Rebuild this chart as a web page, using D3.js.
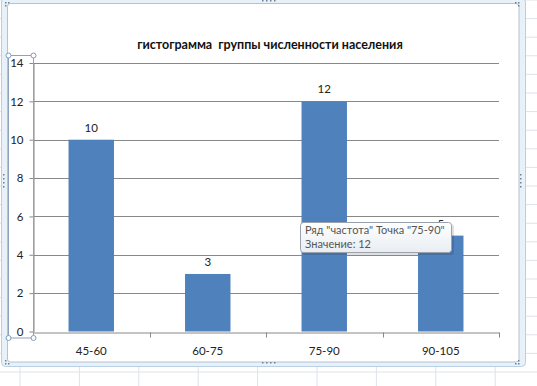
<!DOCTYPE html>
<html>
<head>
<meta charset="utf-8">
<script src="https://cdn.jsdelivr.net/npm/d3@7"></script>
<style>
  html, body { margin: 0; padding: 0; background: #fff; }
  svg { display: block; }
</style>
</head>
<body>
<div id="chart"></div>
<script>
// ---- data ----
const categories = ["45-60", "60-75", "75-90", "90-105"];
const frequency = [10, 3, 12, 5];
const yTicks = [0, 2, 4, 6, 8, 10, 12, 14];
const title = "гистограмма  группы численности населения";
const seriesName = "частота";
const hoverIndex = 2;

// ---- layout ----
const W = 537, H = 386;
const plot = { left: 33, right: 499, top: 63, bottom: 331.5 };

const svg = d3.select("#chart").append("svg")
  .attr("width", W).attr("height", H);

// spreadsheet grid in the background
const bg = svg.append("g");
const colXs = d3.range(20, W, 59.4);
const rowYs = d3.range(372, -10, -18.6);
bg.selectAll("line.col").data(colXs).join("line")
  .attr("x1", d => d).attr("x2", d => d).attr("y1", 0).attr("y2", H)
  .attr("stroke", "#dde3ea").attr("stroke-width", 1);
bg.selectAll("line.row").data(rowYs).join("line")
  .attr("x1", 0).attr("x2", W).attr("y1", d => d).attr("y2", d => d)
  .attr("stroke", "#dde3ea").attr("stroke-width", 1);

// chart selection band + frame
svg.append("rect").attr("x", 1.5).attr("y", -2).attr("width", 524).attr("height", 368.5)
  .attr("rx", 4).attr("fill", "#e9f1f8").attr("stroke", "#b9cfe3");
svg.append("rect").attr("x", 7.5).attr("y", 3.5).attr("width", 511.5).attr("height", 358.5)
  .attr("rx", 3).attr("fill", "#fff").attr("stroke", "#b4c2d1");

// handles (dotted grips)
const grip = svg.append("g").attr("fill", "#6d7f94");
[[262, 0], [266, 0], [270, 0], [274, 0], [262, 362], [266, 362], [270, 362], [274, 362]].forEach(p =>
  grip.append("rect").attr("x", p[0]).attr("y", p[1]).attr("width", 1.5).attr("height", 1.5));
[[3, 174], [3, 178], [3, 182], [3, 186], [520, 174], [520, 178], [520, 182], [520, 186]].forEach(p =>
  grip.append("rect").attr("x", p[0]).attr("y", p[1]).attr("width", 1.5).attr("height", 1.5));
[[5, 2], [8, 2], [5, 5], [515, 2], [518, 2], [518, 5], [5, 360], [8, 363], [5, 363], [515, 363], [518, 363], [518, 360]].forEach(p =>
  grip.append("rect").attr("x", p[0]).attr("y", p[1]).attr("width", 1.5).attr("height", 1.5));

// ---- scales ----
const x = d3.scaleBand().domain(categories).range([plot.left, plot.right])
  .paddingInner(0.61).paddingOuter(0.305);
const y = d3.scaleLinear().domain([0, 14]).range([plot.bottom, plot.top]);

const font = "Lato, 'Noto Sans', sans-serif";

// gridlines
svg.append("g").selectAll("line").data(yTicks.filter(d => d > 0)).join("line")
  .attr("x1", plot.left).attr("x2", plot.right)
  .attr("y1", d => Math.round(y(d)) + 0.5).attr("y2", d => Math.round(y(d)) + 0.5)
  .attr("stroke", "#888").attr("stroke-width", 1);

// y axis
const yAxis = svg.append("g")
  .attr("transform", `translate(${plot.left + 0.5},0)`)
  .call(d3.axisLeft(y).tickValues(yTicks).tickSize(4).tickPadding(6).tickSizeOuter(0));
yAxis.select(".domain").attr("stroke", "#888");
yAxis.selectAll(".tick line").attr("stroke", "#888");
yAxis.selectAll(".tick text").attr("font-family", font).attr("font-size", "11.5px").attr("fill", "#222");

// x axis
const xAxis = svg.append("g")
  .attr("transform", `translate(0,${Math.round(plot.bottom) + 0.5})`)
  .call(d3.axisBottom(x).tickSize(0).tickPadding(14).tickSizeOuter(0));
xAxis.select(".domain").attr("stroke", "#888");
xAxis.selectAll(".tick text").attr("font-family", font).attr("font-size", "11.5px").attr("fill", "#222");
// category boundary ticks
const bounds = categories.map(c => x(c) - x.step() * x.paddingInner() / 2).concat([plot.right]);
xAxis.selectAll("line.bound").data(bounds.slice(1)).join("line")
  .attr("x1", d => Math.round(d) + 0.5).attr("x2", d => Math.round(d) + 0.5)
  .attr("y1", 0).attr("y2", 5).attr("stroke", "#888");

// bars
svg.append("g").selectAll("rect").data(frequency).join("rect")
  .attr("x", (d, i) => x(categories[i]))
  .attr("y", d => y(d))
  .attr("width", x.bandwidth())
  .attr("height", d => y(0) - y(d))
  .attr("fill", "#4f81bd");

// data labels
svg.append("g").selectAll("text").data(frequency).join("text")
  .attr("x", (d, i) => x(categories[i]) + x.bandwidth() / 2)
  .attr("y", d => y(d) - 8)
  .attr("text-anchor", "middle")
  .attr("font-family", font).attr("font-size", "11.5px").attr("fill", "#222")
  .text(d => d);

// title
svg.append("text")
  .attr("x", 270).attr("y", 49)
  .attr("text-anchor", "middle")
  .attr("font-family", font).attr("font-size", "12.5px").attr("font-weight", "bold")
  .attr("fill", "#111")
  .style("white-space", "pre")
  .text(title);

// y-axis selection box with handles
const sel = svg.append("g");
sel.append("rect").attr("x", 8.5).attr("y", 55.5).attr("width", 25).attr("height", 282.5)
  .attr("fill", "none").attr("stroke", "#8ea3bb");
[[8.5, 55.5], [33.5, 55.5], [8.5, 338], [33.5, 338]].forEach(p =>
  sel.append("circle").attr("cx", p[0]).attr("cy", p[1]).attr("r", 2.5)
    .attr("fill", "#fff").attr("stroke", "#7f9bbd").attr("stroke-width", 1));

// tooltip
const defs = svg.append("defs");
const grad = defs.append("linearGradient").attr("id", "tipg").attr("x1", 0).attr("y1", 0).attr("x2", 0).attr("y2", 1);
grad.append("stop").attr("offset", "0%").attr("stop-color", "#ffffff");
grad.append("stop").attr("offset", "100%").attr("stop-color", "#e9edf2");
const tip = svg.append("g");
tip.append("rect").attr("x", 302).attr("y", 224).attr("width", 152).attr("height", 31)
  .attr("rx", 3).attr("fill", "#000").attr("opacity", 0.12);
tip.append("rect").attr("x", 300.5).attr("y", 222.5).attr("width", 151).attr("height", 30)
  .attr("rx", 3).attr("fill", "url(#tipg)").attr("stroke", "#9aa3ad");
tip.append("text").attr("x", 305).attr("y", 234)
  .attr("font-family", font).attr("font-size", "11px").attr("fill", "#555")
  .text(`Ряд "${seriesName}" Точка "${categories[hoverIndex]}"`);
tip.append("text").attr("x", 305).attr("y", 248)
  .attr("font-family", font).attr("font-size", "11px").attr("fill", "#555")
  .text(`Значение: ${frequency[hoverIndex]}`);
</script>
</body>
</html>
